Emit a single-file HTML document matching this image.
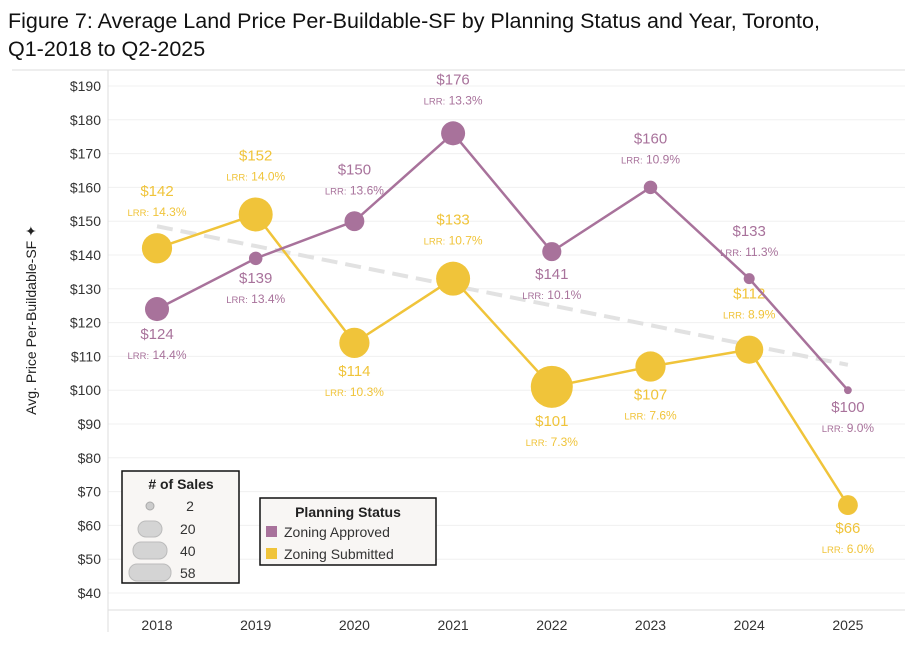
<!DOCTYPE html>
<html><head><meta charset="utf-8">
<style>
body{margin:0;background:#fff;width:908px;height:645px;overflow:hidden;font-family:"Liberation Sans",sans-serif}
</style></head><body>
<svg width="908" height="645" xmlns="http://www.w3.org/2000/svg" font-family="Liberation Sans, sans-serif">
<text x="8" y="28" font-size="21.5" fill="#111">Figure 7: Average Land Price Per-Buildable-SF by Planning Status and Year, Toronto,</text>
<text x="8" y="56" font-size="21.5" fill="#111">Q1-2018 to Q2-2025</text>
<line x1="12" y1="70" x2="905" y2="70" stroke="#ddd"/>
<g id="grid"></g>
<line x1="108" y1="70" x2="108" y2="632" stroke="#ddd"/>
<line x1="108" y1="610" x2="905" y2="610" stroke="#ddd"/>
<text transform="translate(36,320) rotate(-90)" text-anchor="middle" font-size="14" fill="#222">Avg. Price Per-Buildable-SF ✦</text>
<g id="plot"></g>
<g>
<rect x="122" y="471" width="117" height="112" fill="#f8f6f4" stroke="#111" stroke-width="1.5"/>
<text x="181" y="489" text-anchor="middle" font-size="14" font-weight="bold" fill="#222"># of Sales</text>
<circle cx="150" cy="506" r="4" fill="#ccc" stroke="#aaa"/>
<text x="190" y="511" text-anchor="middle" font-size="14" fill="#333">2</text>
<rect x="138" y="521" width="24" height="16" rx="8" fill="#d4d4d4" stroke="#bbb"/>
<text x="180" y="534" font-size="14" fill="#333">20</text>
<rect x="133" y="542" width="34" height="17" rx="8" fill="#d4d4d4" stroke="#bbb"/>
<text x="180" y="556" font-size="14" fill="#333">40</text>
<rect x="129" y="564" width="42" height="17" rx="8" fill="#d4d4d4" stroke="#bbb"/>
<text x="180" y="578" font-size="14" fill="#333">58</text>
</g>
<g>
<rect x="260" y="498" width="176" height="67" fill="#f8f6f4" stroke="#111" stroke-width="1.5"/>
<text x="348" y="517" text-anchor="middle" font-size="14" font-weight="bold" fill="#222">Planning Status</text>
<rect x="266" y="526" width="11" height="11" fill="#a8729b"/>
<text x="284" y="537" font-size="14" fill="#333">Zoning Approved</text>
<rect x="266" y="548" width="11" height="11" fill="#f0c43a"/>
<text x="284" y="559" font-size="14" fill="#333">Zoning Submitted</text>
</g>
</svg>
<script>
const years=["2018","2019","2020","2021","2022","2023","2024","2025"];
const approvedPrice=[124,139,150,176,141,160,133,100];
const approvedLRR=["14.4%","13.4%","13.6%","13.3%","10.1%","10.9%","11.3%","9.0%"];
const approvedSales=[19,6,13,19,12,6,4,2];
const submittedPrice=[142,152,114,133,101,107,112,66];
const submittedLRR=["14.3%","14.0%","10.3%","10.7%","7.3%","7.6%","8.9%","6.0%"];
const submittedSales=[30,38,30,38,58,30,26,13];
const approvedLabelPos=["below","below","above","above","below","above","above","below"];
const submittedLabelPos=["above","above","below","above","below","below","above","below"];
const yTicks=[40,50,60,70,80,90,100,110,120,130,140,150,160,170,180,190];
const trendStart=148.5, trendEnd=107.5;

const NS="http://www.w3.org/2000/svg";
const yS=v=>86+(190-v)*3.38;
const xS=i=>157+i*98.7;
const rS=n=>21*Math.sqrt(n/58);
function mk(tag,attrs,parent){const e=document.createElementNS(NS,tag);for(const k in attrs)e.setAttribute(k,attrs[k]);parent.appendChild(e);return e;}
const grid=document.getElementById('grid'),plot=document.getElementById('plot');
yTicks.forEach(t=>{
  const l=mk('line',{x1:108,x2:905,y1:yS(t),y2:yS(t),stroke:'#f0f0f0'},grid);
  
  
  const tx=mk('text',{x:101,y:yS(t)+5,'text-anchor':'end','font-size':14,fill:'#333'},grid);
  tx.textContent='$'+t;
  
  
});
years.forEach((y,i)=>{
  const tx=mk('text',{x:xS(i),y:630,'text-anchor':'middle','font-size':14,fill:'#333'},grid);
  tx.textContent=y;
  
  
});
const tl=mk('line',{x1:xS(0),y1:yS(trendStart),x2:xS(7),y2:yS(trendEnd),stroke:'#e2e2e2','stroke-width':4,'stroke-dasharray':'16 8'},plot);


function series(name,price,lrr,sales,pos,color){
  const pts=price.map((p,i)=>xS(i)+','+yS(p)).join(' ');
  const pl=mk('polyline',{points:pts,fill:'none',stroke:color,'stroke-width':2.5},plot);
  
  
  price.forEach((p,i)=>{
    const cx=xS(i),cy=yS(p),r=rS(sales[i]);
    const c=mk('circle',{cx:cx,cy:cy,r:r,fill:color},plot);
    
    
    let py,ly;
    if(pos[i]==='above'){py=cy-r-37;ly=cy-r-17;}else{py=cy+r+18;ly=cy+r+38;}
    const t=mk('text',{x:cx,y:py,'text-anchor':'middle','font-size':15,fill:color},plot);
    t.textContent='$'+p;
    
    
    const t2=mk('text',{x:cx,y:ly,'text-anchor':'middle','font-size':12,fill:color},plot);
    t2.innerHTML='<tspan font-size="9.5">LRR:</tspan> '+lrr[i];
    
    
  });
}
series('submitted',submittedPrice,submittedLRR,submittedSales,submittedLabelPos,'#f0c43a');
series('approved',approvedPrice,approvedLRR,approvedSales,approvedLabelPos,'#a8729b');
</script>
</body></html>
